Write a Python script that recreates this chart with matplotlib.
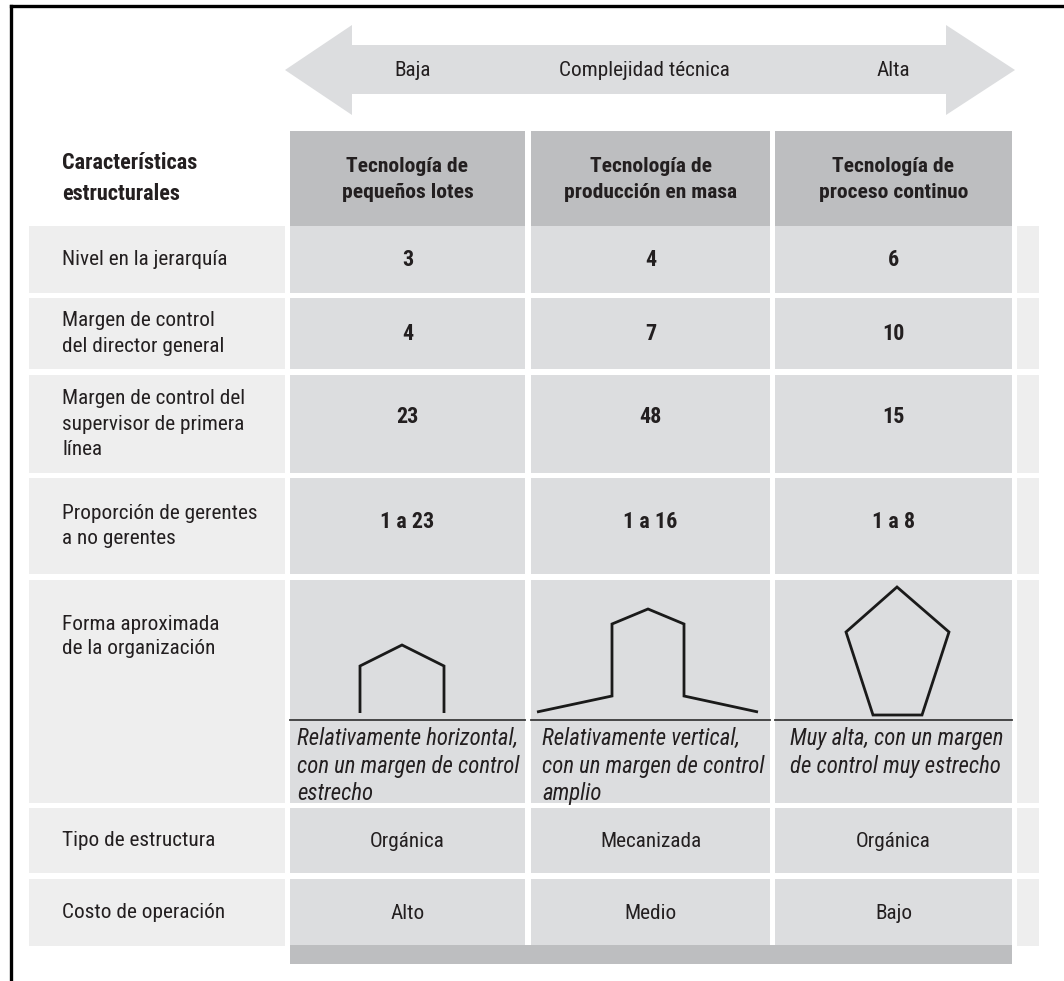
import matplotlib
matplotlib.use("Agg")
import matplotlib.pyplot as plt
from matplotlib.patches import Rectangle, Polygon
from matplotlib import font_manager as fm

# ---------------- data ----------------
scale_low = "Baja"
scale_title = "Complejidad técnica"
scale_high = "Alta"
corner_label = "Características\nestructurales"
technologies = ["Tecnología de\npequeños lotes",
                "Tecnología de\nproducción en masa",
                "Tecnología de\nproceso continuo"]
row_labels = ["Nivel en la jerarquía",
              "Margen de control\ndel director general",
              "Margen de control del\nsupervisor de primera\nlínea",
              "Proporción de gerentes\na no gerentes",
              "Forma aproximada\nde la organización",
              "Tipo de estructura",
              "Costo de operación"]
hierarchy_levels = ["3", "4", "6"]
ceo_span = ["4", "7", "10"]
supervisor_span = ["23", "48", "15"]
manager_ratio = ["1 a 23", "1 a 16", "1 a 8"]
shape_desc = ["Relativamente horizontal,\ncon un margen de control\nestrecho",
              "Relativamente vertical,\ncon un margen de control\namplio",
              "Muy alta, con un margen\nde control muy estrecho"]
structure_type = ["Orgánica", "Mecanizada", "Orgánica"]
operating_cost = ["Alto", "Medio", "Bajo"]
# organisation outlines: (x from cell left, height above the base line)
shape_small_batch = [(70, 7), (70, 54), (112, 75), (154, 54), (154, 7)]
shape_mass = [(6, 8), (81, 24), (81, 96), (117, 111), (153, 96), (153, 24), (227, 8)]
shape_process = [(122, 133), (174, 88), (147, 5), (98, 5), (71, 88)]

# ---------------- fonts ----------------
avail = fm.fontManager.ttflist
names = {f.name for f in avail}
STRETCH = "normal"
if "Liberation Sans Narrow" in names:
    FONT, K = "Liberation Sans Narrow", 1.0
elif "Roboto Condensed" in names:
    FONT, K = "Roboto Condensed", 0.93
elif any(f.name == "DejaVu Sans" and f.stretch in ("condensed", 400, "semi-condensed") for f in avail):
    FONT, K, STRETCH = "DejaVu Sans", 0.88, "condensed"
else:
    FONT, K = "Liberation Sans", 0.84
plt.rcParams["font.family"] = [FONT, "DejaVu Sans"]

def fs(v):
    return v * K

# ---------------- layout ----------------
W, H = 1064, 981
COL_L = [290, 531, 775]
COL_R = [525, 770, 1012]
LAB_L, LAB_R = 29, 285
EXT_L, EXT_R = 1017, 1039
HEAD_T, HEAD_B = 131, 226
ROW_T = [226, 298, 375, 478, 580, 808, 879]
ROW_B = [293, 369, 473, 574, 803, 873, 946]
BAR_T, BAR_B = 945, 964
BASE_Y = 720
LABEL_X = 62

C_HEAD = "#bdbec0"
C_CELL = "#dcdddf"
C_LAB = "#eeeeee"
C_ARROW = "#dcdddf"
C_TEXT = "#231f20"

fig = plt.figure(figsize=(W / 100, H / 100), dpi=100)
ax = fig.add_axes([0, 0, 1, 1])
ax.set_xlim(0, W)
ax.set_ylim(H, 0)
ax.axis("off")

def rect(x0, y0, x1, y1, c):
    ax.add_patch(Rectangle((x0, y0), x1 - x0, y1 - y0, facecolor=c, edgecolor="none", zorder=1))

def txt(x, y, s, size=16.5, weight="normal", style="normal", ha="left", va="center", ls=1.4):
    ax.text(x, y, s, fontsize=fs(size), fontweight=weight, fontstyle=style, ha=ha, va=va,
            color=C_TEXT, linespacing=ls, fontstretch=STRETCH, zorder=5)

# frame
ax.plot([10.5, 10.5], [H, 5.5], color="black", lw=2.4, solid_capstyle="projecting", zorder=6)
ax.plot([10.5, W], [5.5, 5.5], color="black", lw=2.4, solid_capstyle="projecting", zorder=6)

# double arrow
tipL, baseL, baseR, tipR = 285, 352, 946, 1015
ymid, headT, headB, shaftT, shaftB = 70, 25, 115, 45, 94
ax.add_patch(Polygon([(tipL, ymid), (baseL, headT), (baseL, shaftT), (baseR, shaftT), (baseR, headT),
                      (tipR, ymid), (baseR, headB), (baseR, shaftB), (baseL, shaftB), (baseL, headB)],
                     closed=True, facecolor=C_ARROW, edgecolor="none", zorder=1))
txt(413, ymid, scale_low, ha="center")
txt(644, ymid, scale_title, ha="center")
txt(893, ymid, scale_high, ha="center")

# header
for i in range(3):
    rect(COL_L[i], HEAD_T, COL_R[i], HEAD_B, C_HEAD)
    txt((COL_L[i] + COL_R[i]) / 2, (HEAD_T + HEAD_B) / 2 + 1, technologies[i], size=16.6, weight="bold",
        ha="center", ls=1.42)
txt(LABEL_X, (HEAD_T + HEAD_B) / 2, corner_label, size=17.2, weight="bold", ls=1.5)

# rows
values = [hierarchy_levels, ceo_span, supervisor_span, manager_ratio, None, structure_type, operating_cost]
bold_rows = [True, True, True, True, False, False, False]
for r in range(len(row_labels)):
    t, b = ROW_T[r], ROW_B[r]
    rect(LAB_L, t, LAB_R, b, C_LAB)
    rect(EXT_L, t, EXT_R, b, C_LAB)
    for i in range(3):
        rect(COL_L[i], t, COL_R[i], min(b, BAR_T), C_CELL)
    if r == 4:
        txt(LABEL_X, t + 35, row_labels[r], va="top", ls=1.3)
    else:
        txt(LABEL_X, (t + b) / 2, row_labels[r], ls=1.42)
    if values[r] is not None:
        yv = (t + b) / 2 + 1
        if r == 2:
            yv -= 8
        if r == 3:
            yv -= 5
        for i in range(3):
            txt((COL_L[i] + COL_R[i]) / 2, yv, values[r][i],
                size=17 if bold_rows[r] else 16.5,
                weight="bold" if bold_rows[r] else "normal", ha="center")

# shapes row
shapes = [shape_small_batch, shape_mass, shape_process]
closed = [False, False, True]
desc_pad = [7, 11, 15]
for i in range(3):
    ax.plot([COL_L[i], COL_R[i]], [BASE_Y, BASE_Y], color="#3a3a3a", lw=1.3, zorder=3)
    pts = [(COL_L[i] + dx, BASE_Y - dh) for dx, dh in shapes[i]]
    ax.add_patch(Polygon(pts, closed=closed[i], facecolor="none", edgecolor="#1a1a1a",
                         lw=2.0, joinstyle="miter", zorder=4))
    txt(COL_L[i] + desc_pad[i], BASE_Y + 7, shape_desc[i], size=17.6, style="italic", va="top", ls=1.25)

# bottom bar
rect(COL_L[0], BAR_T, COL_R[2], BAR_B, C_HEAD)

fig.savefig("out.png", dpi=100)
